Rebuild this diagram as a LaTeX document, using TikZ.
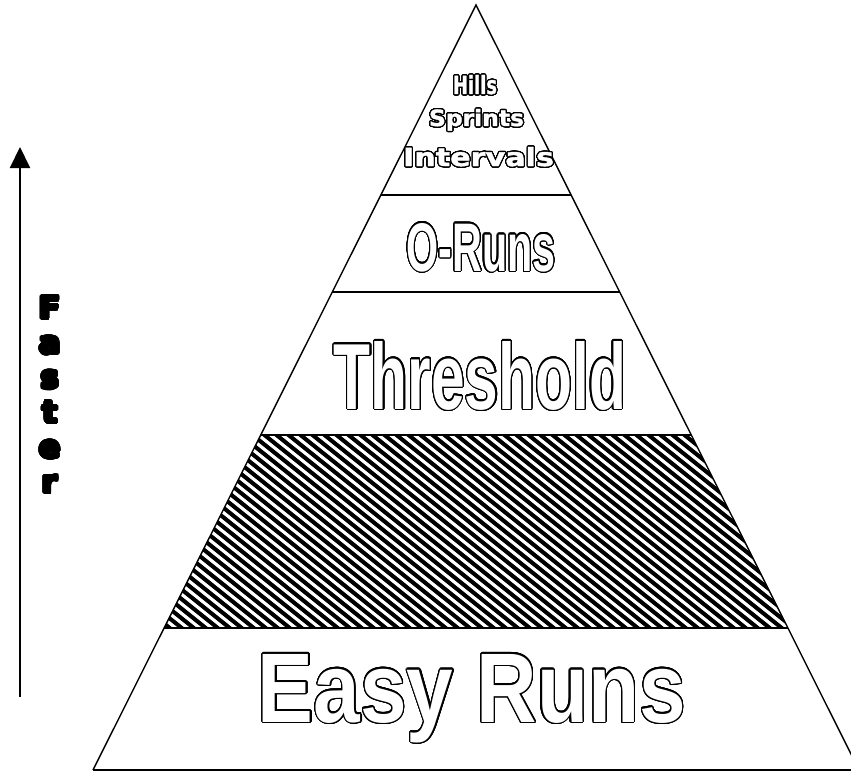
\documentclass[tikz,border=0pt]{standalone}
\usepackage{fontspec}
\usepackage{contour}
\usetikzlibrary{arrows.meta}
\setmainfont{Liberation Sans}
\newfontfamily\heavyfont{DejaVu Sans Bold}
\newfontfamily\wideboldfont[FakeBold=1.5]{DejaVu Sans Bold}
\contourlength{1.2pt}
\contournumber{32}
\newcommand{\heavyletter}[1]{{\contourlength{1.6pt}\contour{black}{#1}}}
\tikzset{
  pyrline/.style={draw=black, line width=1.4pt},
  levelline/.style={draw=black, line width=2pt},
  hatchline/.style={draw=black, line width=4pt},
  outlined/.style={inner sep=0pt, anchor=base, text=white, font=\bfseries},
  smalloutlined/.style={inner sep=0pt, anchor=base, text=white, font=\wideboldfont},
  arrowline/.style={draw=black, line width=2pt, -{Triangle[width=20pt,length=21pt]}},
}
\begin{document}
\begin{tikzpicture}[x=1pt,y=-1pt]
\useasboundingbox (0,0) rectangle (851,773);
\clip (0,0) rectangle (851,773);
% corners
\coordinate (apex) at (476,5);
\coordinate (bl) at (93,770);
\coordinate (br) at (859,770);
\coordinate (l1) at (380.9,195); \coordinate (r1) at (571.1,195);
\coordinate (l2) at (332.3,292); \coordinate (r2) at (619.7,292);
\coordinate (l3) at (260.7,435); \coordinate (r3) at (691.3,435);
\coordinate (l4) at (164.1,628); \coordinate (r4) at (787.9,628);
% hatched band
\begin{scope}
  \clip (l3) -- (r3) -- (r4) -- (l4) -- cycle;
  \foreach \c in {-120,-108,...,800} {
    \draw[hatchline] (\c,425) -- ++(260,208);
  }
\end{scope}
% pyramid
\draw[pyrline] (bl) -- (apex) -- (br);
\draw[levelline] (bl) -- (br);
\draw[levelline] (l1) -- (r1);
\draw[levelline] (l2) -- (r2);
\draw[levelline] (l3) -- (r3);
\draw[levelline] (l4) -- (r4);
% labels
\node[outlined] (easy) at (472,722) {\contour{black}{\resizebox{428pt}{68pt}{Easy Runs}}};
\node[outlined] (thresh) at (480,409) {\contour{black}{\resizebox{292pt}{68pt}{Threshold}}};
\node[outlined] (oruns) at (481,271) {\contour{black}{\resizebox{149pt}{48pt}{O-Runs}}};
\node[smalloutlined] (hills) at (475,94) {\contour{black}{\resizebox{44pt}{19pt}{Hills}}};
\node[smalloutlined] (sprints) at (476.5,126) {\contour{black}{\resizebox{95pt}{17pt}{Sprints}}};
\node[smalloutlined] (intervals) at (478.5,166) {\contour{black}{\resizebox{151pt}{19pt}{Intervals}}};
% faster arrow
\coordinate (arrbot) at (20,697);
\coordinate (arrtop) at (20,147);
\draw[arrowline] (arrbot) -- (arrtop);
\node[inner sep=0pt, anchor=north, align=center, font=\heavyfont\fontsize{31}{34.8}\selectfont] (faster) at (50,296)
  {\heavyletter{F}\\\heavyletter{a}\\\heavyletter{s}\\\heavyletter{t}\\\heavyletter{e}\\\heavyletter{r}};
\end{tikzpicture}
\end{document}
